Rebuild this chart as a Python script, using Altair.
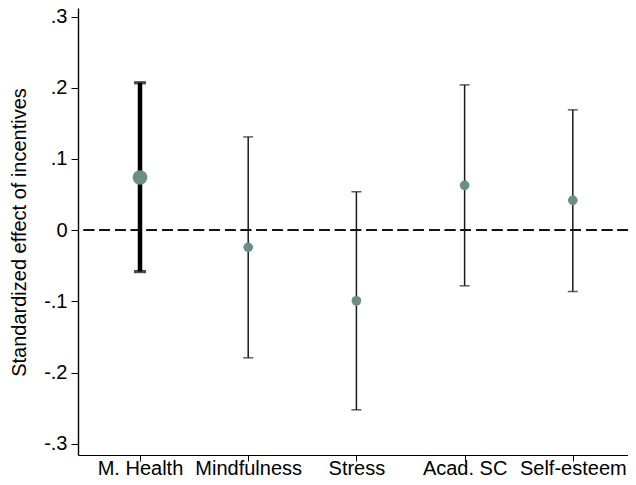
import json
import altair as alt
import pandas as pd

categories = ["M. Health", "Mindfulness", "Stress", "Acad. SC", "Self-esteem"]
estimates = [0.074, -0.024, -0.099, 0.063, 0.042]
lower = [-0.058, -0.179, -0.252, -0.078, -0.086]
upper = [0.207, 0.131, 0.054, 0.204, 0.169]
highlight = [True, False, False, False, False]
y_ticks = [-0.3, -0.2, -0.1, 0.0, 0.1, 0.2, 0.3]

df = pd.DataFrame({
    "cat": categories,
    "est": estimates,
    "lo": lower,
    "hi": upper,
    "hl": highlight,
})

FONT = "Liberation Sans"
FS = 20
PT_COLOR = "#6b8f84"
cat_js = json.dumps(categories)

x_scale = alt.Scale(domain=[0.427, 5.510], nice=False, zero=False)
x_axis = alt.Axis(
    title=None,
    values=list(range(1, len(categories) + 1)),
    labelExpr=f"{cat_js}[datum.value - 1]",
    labelAngle=0,
    labelFont=FONT,
    labelFontSize=FS,
    labelColor="black",
    labelBaseline="alphabetic",
    labelPadding=13,
    labelOverlap=False,
    labelBound=False,
    tickSize=6,
    tickColor="black",
    tickWidth=1,
    domainColor="black",
    domainWidth=1.2,
    grid=False,
)

y_scale = alt.Scale(domain=[-0.31544, 0.31193], nice=False, zero=False)
y_axis = alt.Axis(
    title="Standardized effect of incentives",
    titleFont=FONT,
    titleFontSize=FS,
    titleFontWeight="normal",
    titleColor="black",
    titleX=-59,
    titleY=224,
    titleBaseline="middle",
    titleAngle=270,
    values=y_ticks,
    labelExpr="(datum.value < 0 ? '-' : '') + (datum.value == 0 ? '0' : replace(format(abs(datum.value), '.1f'), '0.', '.'))",
    labelFont=FONT,
    labelFontSize=FS,
    labelColor="black",
    labelPadding=4,
    tickSize=7,
    tickColor="black",
    tickWidth=1,
    domainColor="black",
    domainWidth=1.4,
    grid=False,
)

base = alt.Chart(df).transform_calculate(
    idx=f"indexof({cat_js}, datum.cat) + 1"
)
X = alt.X("idx:Q", scale=x_scale, axis=x_axis)

zero_line = alt.Chart(df).mark_rule(color="#111111", strokeWidth=1.5, strokeDash=[10.5, 5.2]).encode(
    y=alt.datum(0, scale=y_scale, axis=y_axis, type="quantitative"),
)

thin = base.transform_filter("!datum.hl")
thick = base.transform_filter("datum.hl")

def Y(field):
    return alt.Y(field, scale=y_scale, axis=y_axis)

thin_rule = thin.mark_rule(color="#1a1a1a", strokeWidth=1.5).encode(x=X, y=Y("lo:Q"), y2="hi:Q")
thin_cap_lo = thin.mark_tick(color="#1a1a1a", thickness=1.5, size=10, orient="horizontal").encode(x=X, y=Y("lo:Q"))
thin_cap_hi = thin.mark_tick(color="#1a1a1a", thickness=1.5, size=10, orient="horizontal").encode(x=X, y=Y("hi:Q"))
thin_pt = thin.mark_circle(color=PT_COLOR, opacity=1, size=94).encode(x=X, y=Y("est:Q"))

thick_rule = thick.mark_rule(color="black", strokeWidth=4.5).encode(x=X, y=Y("lo:Q"), y2="hi:Q")
thick_cap_lo = thick.mark_tick(color="black", thickness=3.3, size=12, orient="horizontal").encode(x=X, y=Y("lo:Q"))
thick_cap_hi = thick.mark_tick(color="black", thickness=3.3, size=12, orient="horizontal").encode(x=X, y=Y("hi:Q"))
thick_pt = thick.mark_circle(color=PT_COLOR, opacity=1, size=216).encode(x=X, y=Y("est:Q"))

chart = alt.layer(
    zero_line,
    thin_rule, thin_cap_lo, thin_cap_hi,
    thick_rule, thick_cap_lo, thick_cap_hi,
    thin_pt, thick_pt,
).properties(
    width=550,
    height=447,
    autosize=alt.AutoSizeParams(type="none"),
    padding={"left": 70, "top": 0, "right": 0, "bottom": 22},
    background="white",
).configure_view(stroke=None)

chart.save("out.html", embed_options={"renderer": "svg", "actions": False})
